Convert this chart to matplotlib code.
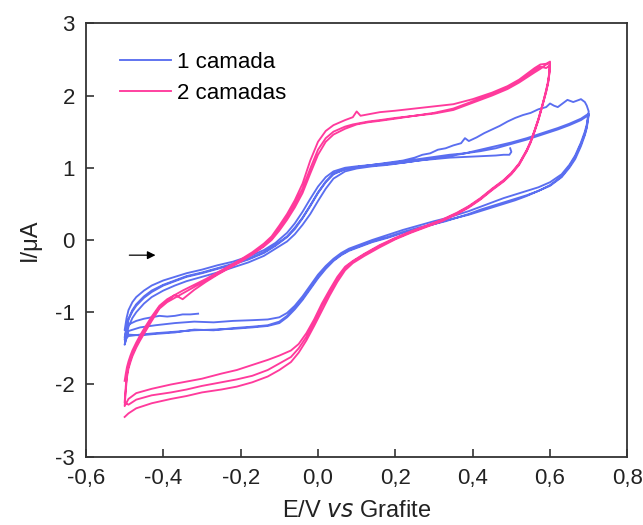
import numpy as np
import matplotlib
matplotlib.use("Agg")
import matplotlib.pyplot as plt

plt.rcParams['font.family'] = ['Liberation Sans', 'DejaVu Sans']
plt.rcParams['axes.unicode_minus'] = False

### data (E in V, I in uA)
# 1 camada: short start piece, 4 anodic sweeps, 3 cathodic sweeps
b_start_E = [-0.31, -0.33, -0.35, -0.37, -0.39, -0.41, -0.43, -0.45, -0.47, -0.49, -0.50]
b_start_I = [-1.02, -1.03, -1.03, -1.05, -1.06, -1.05, -1.07, -1.09, -1.12, -1.17, -1.25]

bf_E = [-0.50, -0.495, -0.49, -0.48, -0.47, -0.45, -0.43, -0.40, -0.37, -0.34, -0.30, -0.26,
        -0.22, -0.18, -0.14, -0.11, -0.08, -0.06, -0.04, -0.02, 0.00, 0.02, 0.04, 0.07, 0.10,
        0.14, 0.18, 0.22, 0.26, 0.30, 0.34, 0.38, 0.42, 0.46, 0.50, 0.54, 0.58, 0.62, 0.65,
        0.68, 0.70]
bf2_I = [-1.45, -1.32, -1.20, -1.08, -1.00, -0.88, -0.79, -0.70, -0.63, -0.57, -0.51, -0.45,
         -0.38, -0.31, -0.22, -0.12, -0.02, 0.08, 0.21, 0.36, 0.54, 0.71, 0.85, 0.95, 0.99,
         1.02, 1.04, 1.07, 1.10, 1.13, 1.16, 1.20, 1.23, 1.27, 1.33, 1.39, 1.46, 1.53, 1.59,
         1.66, 1.73]
bf3_I = [-1.38, -1.22, -1.10, -0.99, -0.91, -0.80, -0.72, -0.63, -0.57, -0.51, -0.46, -0.40,
         -0.34, -0.27, -0.18, -0.08, 0.04, 0.15, 0.30, 0.47, 0.65, 0.80, 0.91, 0.98, 1.01,
         1.04, 1.06, 1.09, 1.12, 1.15, 1.18, 1.20, 1.25, 1.30, 1.35, 1.41, 1.48, 1.55, 1.61,
         1.68, 1.75]

# first sweep, noisy high branch above 0.25 V
bf1_E = [-0.50, -0.495, -0.49, -0.48, -0.47, -0.45, -0.43, -0.40, -0.37, -0.34, -0.30, -0.26,
         -0.22, -0.18, -0.14, -0.11, -0.08, -0.06, -0.04, -0.02, 0.00, 0.02, 0.04, 0.07, 0.10,
         0.14, 0.18, 0.22, 0.25, 0.27, 0.29, 0.31, 0.33, 0.35, 0.37, 0.38, 0.39, 0.41, 0.43,
         0.45, 0.47, 0.49, 0.51, 0.53, 0.55, 0.57, 0.59, 0.60, 0.61, 0.62, 0.63, 0.645, 0.66,
         0.67, 0.68, 0.69, 0.695, 0.70]
bf1_I = [-1.25, -1.08, -0.97, -0.86, -0.79, -0.70, -0.63, -0.56, -0.51, -0.46, -0.41, -0.35,
         -0.30, -0.23, -0.14, -0.04, 0.10, 0.23, 0.39, 0.57, 0.74, 0.87, 0.95, 1.00, 1.02,
         1.04, 1.07, 1.10, 1.14, 1.18, 1.20, 1.25, 1.27, 1.31, 1.34, 1.41, 1.37, 1.42, 1.48,
         1.53, 1.58, 1.64, 1.69, 1.73, 1.76, 1.81, 1.84, 1.89, 1.86, 1.84, 1.88, 1.94, 1.91,
         1.93, 1.95, 1.91, 1.86, 1.78]

# last sweep stops near 0.5 V
bf4_E = [-0.50, -0.495, -0.49, -0.48, -0.47, -0.45, -0.43, -0.40, -0.37, -0.34, -0.30, -0.26,
         -0.22, -0.18, -0.14, -0.11, -0.08, -0.06, -0.04, -0.02, 0.00, 0.02, 0.04, 0.07, 0.10,
         0.14, 0.18, 0.22, 0.26, 0.30, 0.34, 0.38, 0.42, 0.46, 0.48, 0.495, 0.50, 0.497]
bf4_I = [-1.35, -1.20, -1.09, -0.97, -0.89, -0.78, -0.70, -0.62, -0.56, -0.50, -0.45, -0.39,
         -0.33, -0.26, -0.17, -0.07, 0.05, 0.17, 0.31, 0.48, 0.66, 0.81, 0.92, 0.98, 1.01,
         1.03, 1.05, 1.07, 1.10, 1.12, 1.14, 1.15, 1.16, 1.17, 1.18, 1.18, 1.22, 1.27]

br_E = [0.70, 0.695, 0.69, 0.68, 0.665, 0.65, 0.63, 0.60, 0.57, 0.54, 0.51, 0.48, 0.45, 0.42,
        0.39, 0.36, 0.33, 0.30, 0.26, 0.22, 0.18, 0.14, 0.11, 0.08, 0.06, 0.04, 0.02, 0.00,
        -0.02, -0.04, -0.06, -0.08, -0.10, -0.13, -0.17, -0.22, -0.27, -0.32, -0.37, -0.42,
        -0.46, -0.49, -0.50]
br1_I = [1.78, 1.60, 1.50, 1.35, 1.17, 1.04, 0.91, 0.80, 0.73, 0.68, 0.63, 0.58, 0.52, 0.46,
         0.40, 0.35, 0.30, 0.26, 0.20, 0.14, 0.07, 0.00, -0.06, -0.12, -0.18, -0.26, -0.36,
         -0.48, -0.63, -0.78, -0.91, -1.01, -1.07, -1.10, -1.11, -1.12, -1.14, -1.13, -1.15,
         -1.18, -1.21, -1.26, -1.45]
br2_I = [1.73, 1.55, 1.45, 1.30, 1.12, 1.00, 0.87, 0.75, 0.68, 0.62, 0.57, 0.52, 0.47, 0.42,
         0.36, 0.31, 0.26, 0.22, 0.16, 0.10, 0.03, -0.03, -0.09, -0.15, -0.21, -0.29, -0.40,
         -0.53, -0.68, -0.83, -0.96, -1.07, -1.15, -1.19, -1.21, -1.23, -1.24, -1.25, -1.27,
         -1.29, -1.31, -1.33, -1.38]
br3_I = [1.75, 1.57, 1.47, 1.33, 1.15, 1.02, 0.88, 0.76, 0.68, 0.61, 0.55, 0.50, 0.45, 0.40,
         0.35, 0.31, 0.27, 0.22, 0.17, 0.11, 0.04, -0.02, -0.08, -0.14, -0.20, -0.28, -0.38,
         -0.51, -0.66, -0.81, -0.94, -1.05, -1.13, -1.18, -1.20, -1.22, -1.25, -1.24, -1.28,
         -1.30, -1.32, -1.31, -1.35]

# 2 camadas: 3 anodic sweeps, 3 cathodic sweeps
pf_E = [-0.50, -0.497, -0.494, -0.49, -0.485, -0.48, -0.47, -0.46, -0.45, -0.43, -0.41, -0.39,
        -0.37, -0.35, -0.32, -0.29, -0.26, -0.23, -0.20, -0.17, -0.14, -0.12, -0.10, -0.08,
        -0.06, -0.04, -0.02, 0.00, 0.02, 0.04, 0.07, 0.09, 0.10, 0.11, 0.13, 0.16, 0.20, 0.25,
        0.30, 0.35, 0.40, 0.45, 0.49, 0.52, 0.54, 0.56, 0.575, 0.59, 0.60]
pf1_I = [-1.95, -1.85, -1.76, -1.68, -1.60, -1.53, -1.42, -1.32, -1.23, -1.06, -0.91, -0.82,
         -0.76, -0.70, -0.62, -0.54, -0.45, -0.36, -0.27, -0.17, -0.05, 0.05, 0.20, 0.36,
         0.55, 0.78, 1.10, 1.36, 1.51, 1.59, 1.66, 1.70, 1.78, 1.72, 1.74, 1.77, 1.79, 1.82,
         1.85, 1.88, 1.95, 2.04, 2.13, 2.22, 2.30, 2.38, 2.43, 2.44, 2.47]
pf2_I = [-2.30, -2.08, -1.90, -1.78, -1.69, -1.61, -1.49, -1.39, -1.30, -1.12, -0.95, -0.86,
         -0.80, -0.74, -0.65, -0.56, -0.47, -0.38, -0.29, -0.19, -0.08, 0.02, 0.16, 0.32,
         0.50, 0.71, 0.99, 1.25, 1.41, 1.50, 1.57, 1.60, 1.61, 1.62, 1.64, 1.66, 1.69, 1.72,
         1.75, 1.80, 1.90, 2.00, 2.09, 2.18, 2.25, 2.32, 2.37, 2.43, 2.45]
pf3_I = [-2.25, -2.02, -1.86, -1.75, -1.66, -1.58, -1.46, -1.36, -1.27, -1.09, -0.93, -0.84,
         -0.76, -0.82, -0.69, -0.58, -0.48, -0.39, -0.30, -0.20, -0.09, 0.00, 0.13, 0.28,
         0.45, 0.65, 0.92, 1.18, 1.36, 1.46, 1.54, 1.58, 1.60, 1.61, 1.63, 1.65, 1.68, 1.72,
         1.76, 1.82, 1.92, 2.02, 2.11, 2.20, 2.28, 2.35, 2.40, 2.38, 2.42]

pr_E = [0.60, 0.598, 0.595, 0.59, 0.585, 0.58, 0.57, 0.56, 0.55, 0.54, 0.52, 0.50, 0.48, 0.45,
        0.42, 0.39, 0.36, 0.32, 0.28, 0.24, 0.20, 0.16, 0.12, 0.09, 0.07, 0.05, 0.03, 0.01,
        -0.01, -0.03, -0.05, -0.07, -0.10, -0.13, -0.17, -0.21, -0.25, -0.30, -0.34, -0.38,
        -0.43, -0.47, -0.49, -0.50]
pr1_I = [2.47, 2.32, 2.20, 2.08, 1.97, 1.87, 1.68, 1.52, 1.37, 1.25, 1.06, 0.93, 0.83, 0.71,
         0.58, 0.47, 0.38, 0.28, 0.20, 0.12, 0.03, -0.07, -0.19, -0.29, -0.37, -0.51, -0.69,
         -0.88, -1.10, -1.29, -1.44, -1.53, -1.60, -1.66, -1.73, -1.80, -1.85, -1.92, -1.96,
         -2.00, -2.06, -2.12, -2.20, -2.30]
pr2_I = [2.45, 2.30, 2.18, 2.06, 1.96, 1.86, 1.67, 1.51, 1.36, 1.24, 1.05, 0.92, 0.82, 0.70,
         0.57, 0.46, 0.37, 0.27, 0.19, 0.11, 0.02, -0.08, -0.20, -0.30, -0.39, -0.54, -0.72,
         -0.92, -1.14, -1.34, -1.50, -1.62, -1.71, -1.80, -1.88, -1.93, -1.97, -2.02, -2.07,
         -2.11, -2.15, -2.21, -2.28, -2.25]
pr3_I = [2.42, 2.29, 2.17, 2.05, 1.95, 1.85, 1.66, 1.50, 1.35, 1.23, 1.04, 0.91, 0.81, 0.69,
         0.56, 0.45, 0.36, 0.26, 0.18, 0.10, 0.01, -0.10, -0.22, -0.32, -0.42, -0.58, -0.77,
         -0.98, -1.19, -1.39, -1.56, -1.69, -1.80, -1.89, -1.97, -2.03, -2.07, -2.11, -2.16,
         -2.20, -2.26, -2.33, -2.40, -2.45]

xticks = [-0.6, -0.4, -0.2, 0.0, 0.2, 0.4, 0.6, 0.8]
xtick_labels = ['-0,6', '-0,4', '-0,2', '0,0', '0,2', '0,4', '0,6', '0,8']
yticks = [-3, -2, -1, 0, 1, 2, 3]
ytick_labels = ['-3', '-2', '-1', '0', '1', '2', '3']

blue = '#5a6ef0'
pink = '#ff3a9c'

# join the sweeps in recording order
blue_E = np.concatenate([b_start_E, bf1_E, br_E, bf_E, br_E, bf_E, br_E, bf4_E])
blue_I = np.concatenate([b_start_I, bf1_I, br1_I, bf2_I, br2_I, bf3_I, br3_I, bf4_I])
pink_E = np.concatenate([pf_E, pr_E, pf_E, pr_E, pf_E, pr_E])
pink_I = np.concatenate([pf1_I, pr1_I, pf2_I, pr2_I, pf3_I, pr3_I])

### plot
fig = plt.figure(figsize=(6.43, 5.25), dpi=100)
ax = fig.add_axes([0.1337, 0.1301, 0.8420, 0.8255])

ax.plot(blue_E, blue_I, color=blue, lw=1.35, label='1 camada')
ax.plot(pink_E, pink_I, color=pink, lw=1.35, label='2 camadas')

ax.annotate('', xy=(-0.413, -0.21), xytext=(-0.495, -0.21),
            arrowprops=dict(arrowstyle='-|>', color='black', lw=0.9, mutation_scale=12))

ax.set_xlim(-0.6, 0.8)
ax.set_ylim(-3, 3)
ax.set_xticks(xticks)
ax.set_xticklabels(xtick_labels)
ax.set_yticks(yticks)
ax.set_yticklabels(ytick_labels)
ax.tick_params(direction='in', length=6, width=1.1, labelsize=16, pad=8,
               colors='#222222', top=False, right=False)
for s in ax.spines.values():
    s.set_linewidth(1.3)
    s.set_color('#333333')

ax.set_xlabel('E/V $\\it{vs}$ Grafite', fontsize=17, color='#222222', labelpad=8)
ax.set_ylabel('I/\u03bcA', fontsize=17, color='#222222', labelpad=10)

ax.legend(loc='upper left', bbox_to_anchor=(0.0628, 0.934), frameon=False, fontsize=16,
          handlelength=2.3, handletextpad=0.25, labelspacing=0.45, borderpad=0, borderaxespad=0)

fig.savefig('out.png', dpi=100)
